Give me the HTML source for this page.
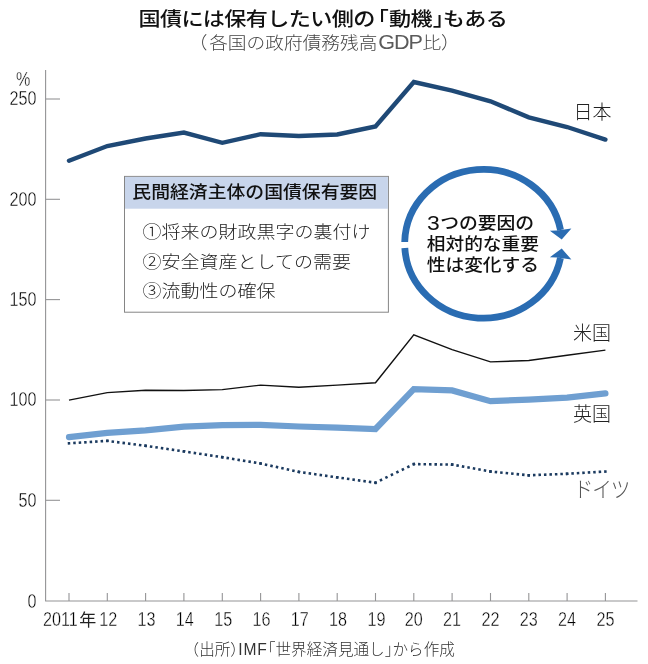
<!DOCTYPE html>
<html lang="ja"><head><meta charset="utf-8"><title>国債には保有したい側の「動機」もある</title>
<style>
html,body{margin:0;padding:0;background:#fff;}
body{width:648px;height:664px;overflow:hidden;}
svg{display:block;}
text{font-family:"Liberation Sans","Noto Sans CJK JP",sans-serif;}
.num{font-family:"Liberation Sans",sans-serif;font-size:21px;fill:#000;stroke:#fff;stroke-width:0.4px;}
.h{font-feature-settings:"halt";}
</style></head><body>
<svg width="648" height="664" viewBox="0 0 648 664">
<rect width="648" height="664" fill="#fff"/>
<text class="h" transform="translate(138.4,26.3) scale(1,0.87)" font-size="22.1" letter-spacing="-0.6" font-weight="500" fill="#111">国債には保有したい側の<tspan dx="3">「</tspan><tspan dx="0.7">動機</tspan><tspan dx="0.8">」</tspan><tspan dx="-0.4">もある</tspan></text>
<text transform="translate(198,48.6) scale(1,0.93)" font-size="18.7" font-weight="300" fill="#444"><tspan class="h">（</tspan><tspan dx="1.8">各国の政府債務残高</tspan><tspan dx="1" font-size="21.6" letter-spacing="-1.1" fill="#5a5a5a">GDP</tspan><tspan dx="0.6">比</tspan><tspan class="h">）</tspan></text>
<g stroke="#949496" stroke-width="1.1" fill="none" stroke-linejoin="round">
<path d="M45.6 70V601H637.5"/>
<path d="M45.6 99H60"/>
<path d="M45.6 199.3H60"/>
<path d="M45.6 299.6H60"/>
<path d="M45.6 400H60"/>
<path d="M45.6 500.3H60"/>
<path d="M69.0 593V601"/>
<path d="M107.3 593V601"/>
<path d="M145.6 593V601"/>
<path d="M183.9 593V601"/>
<path d="M222.3 593V601"/>
<path d="M260.6 593V601"/>
<path d="M298.9 593V601"/>
<path d="M337.2 593V601"/>
<path d="M375.5 593V601"/>
<path d="M413.8 593V601"/>
<path d="M452.1 593V601"/>
<path d="M490.5 593V601"/>
<path d="M528.8 593V601"/>
<path d="M567.1 593V601"/>
<path d="M605.4 593V601"/>
</g>
<text class="num" transform="translate(36.6,105.4) scale(0.77,1)" text-anchor="end">250</text>
<text class="num" transform="translate(36.6,205.7) scale(0.77,1)" text-anchor="end">200</text>
<text class="num" transform="translate(36.6,306.0) scale(0.77,1)" text-anchor="end">150</text>
<text class="num" transform="translate(36.6,406.4) scale(0.77,1)" text-anchor="end">100</text>
<text class="num" transform="translate(36.6,506.7) scale(0.77,1)" text-anchor="end">50</text>
<text class="num" transform="translate(36.6,607.7) scale(0.77,1)" text-anchor="end">0</text>
<text class="num" transform="translate(23.3,85.6) scale(0.77,1)" text-anchor="middle">%</text>
<text class="num" transform="translate(43,626.2) scale(0.77,1)">2011</text>
<text x="79.2" y="626.1" font-size="17" font-weight="400" fill="#222">年</text>
<text class="num" transform="translate(108.2,626.2) scale(0.77,1)" text-anchor="middle">12</text>
<text class="num" transform="translate(146.5,626.2) scale(0.77,1)" text-anchor="middle">13</text>
<text class="num" transform="translate(184.8,626.2) scale(0.77,1)" text-anchor="middle">14</text>
<text class="num" transform="translate(223.2,626.2) scale(0.77,1)" text-anchor="middle">15</text>
<text class="num" transform="translate(261.5,626.2) scale(0.77,1)" text-anchor="middle">16</text>
<text class="num" transform="translate(299.8,626.2) scale(0.77,1)" text-anchor="middle">17</text>
<text class="num" transform="translate(338.1,626.2) scale(0.77,1)" text-anchor="middle">18</text>
<text class="num" transform="translate(376.4,626.2) scale(0.77,1)" text-anchor="middle">19</text>
<text class="num" transform="translate(413.8,626.2) scale(0.77,1)" text-anchor="middle">20</text>
<text class="num" transform="translate(452.1,626.2) scale(0.77,1)" text-anchor="middle">21</text>
<text class="num" transform="translate(490.5,626.2) scale(0.77,1)" text-anchor="middle">22</text>
<text class="num" transform="translate(528.8,626.2) scale(0.77,1)" text-anchor="middle">23</text>
<text class="num" transform="translate(567.1,626.2) scale(0.77,1)" text-anchor="middle">24</text>
<text class="num" transform="translate(605.4,626.2) scale(0.77,1)" text-anchor="middle">25</text>
<text class="h" x="191.4" y="655" font-size="15.6" font-weight="300" fill="#333">（出所）<tspan letter-spacing="0.9">IMF</tspan>「世界経済見通し」から作成</text>
<polyline points="69.0,400.1 107.3,392.6 145.6,390.2 183.9,390.5 222.3,389.6 260.6,385.1 298.9,387.3 337.2,385.1 375.5,382.7 413.8,334.8 452.1,349.6 490.5,361.9 528.8,360.5 567.1,355.3 605.4,350.1" fill="none" stroke="#111" stroke-width="1.4" stroke-linejoin="miter"/>
<g fill="none" stroke="#1b3a5f" stroke-width="2.6">
<path d="M67.75 443.38L108.56 440.82" stroke-dasharray="2.5 2.984"/>
<path d="M106.07 440.74L146.87 445.96" stroke-dasharray="2.5 3.018"/>
<path d="M144.39 445.62L185.18 451.58" stroke-dasharray="2.5 3.032"/>
<path d="M182.71 451.21L223.49 457.39" stroke-dasharray="2.5 3.036"/>
<path d="M221.02 457.00L261.80 463.70" stroke-dasharray="2.5 3.047"/>
<path d="M259.35 463.23L300.11 472.17" stroke-dasharray="2.5 3.103"/>
<path d="M297.65 471.72L338.44 477.58" stroke-dasharray="2.5 3.030"/>
<path d="M335.96 477.23L376.75 482.87" stroke-dasharray="2.5 3.026"/>
<path d="M374.39 483.25L414.95 463.55" stroke-dasharray="2.5 3.584"/>
<path d="M412.58 464.08L453.39 464.62" stroke-dasharray="2.5 2.974"/>
<path d="M450.91 464.38L491.69 471.72" stroke-dasharray="2.5 3.062"/>
<path d="M489.21 471.38L530.02 475.42" stroke-dasharray="2.5 3.000"/>
<path d="M527.52 475.35L568.33 473.75" stroke-dasharray="2.5 2.978"/>
<path d="M565.84 473.87L606.65 471.43" stroke-dasharray="2.5 2.983"/>
</g>
<polyline points="69.0,437.2 107.3,432.8 145.6,430.4 183.9,426.7 222.3,425.1 260.6,424.9 298.9,426.5 337.2,427.7 375.5,429.0 413.8,389.2 452.1,390.4 490.5,401.2 528.8,399.6 567.1,397.6 605.4,393.4" fill="none" stroke="#6f9fd1" stroke-width="6.2" stroke-linejoin="miter" stroke-linecap="round"/>
<polyline points="69.0,160.8 107.3,146.0 145.6,138.5 183.9,132.6 222.3,142.8 260.6,134.2 298.9,136.0 337.2,134.5 375.5,126.5 413.8,82.0 452.1,90.6 490.5,101.3 528.8,117.4 567.1,127.0 605.4,139.6" fill="none" stroke="#1f4976" stroke-width="4.4" stroke-linejoin="miter" stroke-linecap="round"/>
<text x="573.4" y="119" font-size="19" font-weight="300" fill="#222">日本</text>
<text x="573.1" y="339.8" font-size="19" font-weight="300" fill="#222">米国</text>
<text x="573.1" y="420.5" font-size="19" font-weight="300" fill="#222">英国</text>
<text transform="translate(573.7,496.8) scale(0.89,1)" font-size="22" letter-spacing="-1.2" font-weight="300" fill="#555">ドイツ</text>
<rect x="124.5" y="176.4" width="263.9" height="135.8" fill="#fff" stroke="#858585" stroke-width="1"/>
<rect x="125" y="176.9" width="262.9" height="31.8" fill="#c8d5eb"/>
<text transform="translate(132.3,198.1) scale(1,0.93)" font-size="18.85" font-weight="500" fill="#111">民間経済主体の国債保有要因</text>
<text transform="translate(142.6,237.92) scale(1,0.92)" font-size="19" font-weight="300" fill="#222">①将来の財政黒字の裏付け</text>
<text transform="translate(142.6,267.62) scale(1,0.92)" font-size="19" font-weight="300" fill="#222">②安全資産としての需要</text>
<text transform="translate(142.6,296.62) scale(1,0.92)" font-size="19" font-weight="300" fill="#222">③流動性の確保</text>
<g fill="none" stroke="#2a6cb2" stroke-width="6.8">
<path d="M404.72 242.00A78.6 74.4 0 0 1 560.54 230.00"/>
<path d="M404.83 248.00A78.6 74.4 0 0 0 560.46 258.00"/>
</g>
<polygon points="561.7,239.6 549.9,230.8 556.6,230.4 564.2,229.6 571.4,228.4" fill="#2a6cb2"/>
<polygon points="561.7,248.4 549.9,257.2 556.6,257.6 564.2,258.4 571.4,259.6" fill="#2a6cb2"/>
<text transform="translate(427,229.8) scale(1.13,1)" font-size="20.3" fill="#111">3</text>
<text transform="translate(440.2,228.7) scale(1,0.92)" font-size="18.8" font-weight="500" fill="#111">つの要因の</text>
<text transform="translate(426.8,250.1) scale(1,0.92)" font-size="18.7" font-weight="500" fill="#111">相対的な重要</text>
<text transform="translate(426.8,271.0) scale(1,0.92)" font-size="18.7" font-weight="500" fill="#111">性は変化する</text>
</svg>
</body></html>
